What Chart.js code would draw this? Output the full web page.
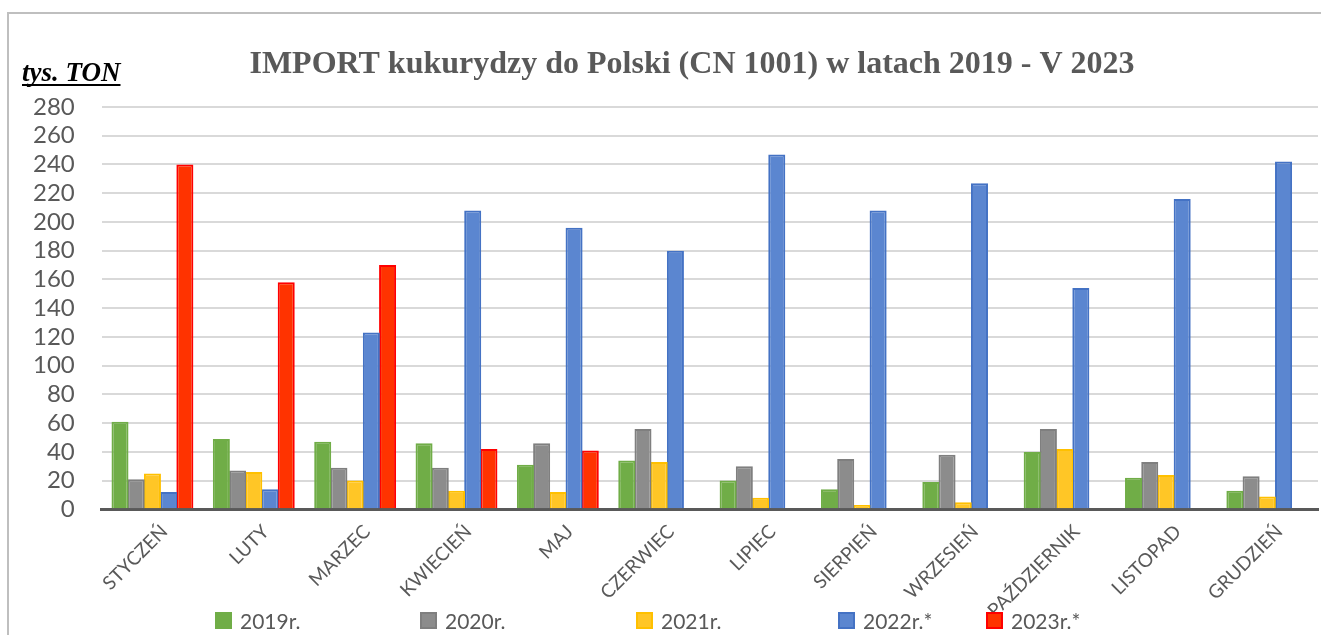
<!DOCTYPE html>
<html lang="pl">
<head>
<meta charset="utf-8">
<title>IMPORT kukurydzy do Polski</title>
<script src="https://cdn.jsdelivr.net/npm/chart.js@4.4.1/dist/chart.umd.min.js"></script>
<style>
  html, body { margin: 0; padding: 0; background: #fff; }
  #wrap { position: relative; width: 1321px; height: 635px; overflow: hidden; }
  #legenda { position: absolute; left: 0; top: 606px; height: 28px; display: flex; align-items: center;
             font-family: Lato, 'Open Sans', sans-serif; font-size: 21px; color: #595959; }
  #legenda .pozycja { position: absolute; display: flex; align-items: center; white-space: nowrap; }
  #legenda .kwadrat { width: 13px; height: 13px; border: 2px solid; margin-right: 8px; }
</style>
</head>
<body>
<div id="wrap">
  <canvas id="wykres" width="1321" height="635"></canvas>
  <div id="legenda"></div>
</div>
<script>
// Miesiące
const miesiace = ['STYCZEŃ', 'LUTY', 'MARZEC', 'KWIECIEŃ', 'MAJ', 'CZERWIEC',
  'LIPIEC', 'SIERPIEŃ', 'WRZESIEŃ', 'PAŹDZIERNIK', 'LISTOPAD', 'GRUDZIEŃ'];

// Import w tys. ton
const import2019 = [61, 49, 47, 46, 31, 34, 20, 14, 19, 40, 22, 13];
const import2020 = [21, 27, 29, 29, 46, 56, 30, 35, 38, 56, 33, 23];
const import2021 = [25, 26, 20, 13, 12, 33, 8, 3, 5, 42, 24, 9];
const import2022 = [12, 14, 123, 208, 196, 180, 247, 208, 227, 154, 216, 242];
const import2023 = [240, 158, 170, 42, 41, null, null, null, null, null, null, null];

const serie = [
  { label: '2019r.', data: import2019, fill: '#70ad47', border: '#70ad47' },
  { label: '2020r.', data: import2020, fill: '#8c8c8c', border: '#7f7f7f' },
  { label: '2021r.', data: import2021, fill: '#ffc626', border: '#ffc000' },
  { label: '2022r.*', data: import2022, fill: '#5b86d0', border: '#4472c4' },
  { label: '2023r.*', data: import2023, fill: '#ff3300', border: '#ff0000' }
];

const tytul = 'IMPORT kukurydzy do Polski (CN 1001) w latach 2019 - V 2023';
const jednostka = 'tys. TON';

// Ramka, tytuł i opis osi Y
const ozdobyPlugin = {
  id: 'ozdoby',
  afterDraw(chart) {
    const ctx = chart.ctx;
    ctx.save();
    ctx.strokeStyle = '#bfbfbf';
    ctx.lineWidth = 2;
    ctx.beginPath();
    ctx.moveTo(8, 635);
    ctx.lineTo(8, 13);
    ctx.lineTo(1321, 13);
    ctx.stroke();

    ctx.fillStyle = '#595959';
    ctx.font = 'bold 32px "Liberation Serif", "Times New Roman", serif';
    ctx.textAlign = 'center';
    ctx.textBaseline = 'alphabetic';
    ctx.fillText(tytul, 692, 73);

    ctx.fillStyle = '#000';
    ctx.font = 'bold italic 27px "Liberation Serif", "Times New Roman", serif';
    ctx.textAlign = 'left';
    ctx.fillText(jednostka, 22, 81);
    const w = ctx.measureText(jednostka).width;
    ctx.fillRect(22, 84, w, 2);
    ctx.restore();
  }
};

new Chart(document.getElementById('wykres').getContext('2d'), {
  type: 'bar',
  data: {
    labels: miesiace,
    datasets: serie.map(s => ({
      label: s.label,
      data: s.data,
      backgroundColor: s.fill,
      borderColor: s.border,
      borderWidth: 2,
      categoryPercentage: 0.8,
      barPercentage: 1.05
    }))
  },
  options: {
    responsive: false,
    animation: false,
    layout: { padding: { left: 6, top: 107, right: 3, bottom: 2 } },
    plugins: {
      legend: { display: false },
      title: { display: false },
      tooltip: { enabled: false }
    },
    scales: {
      y: {
        min: 0,
        max: 280,
        ticks: {
          stepSize: 20,
          autoSkip: false,
          padding: 27,
          color: '#595959',
          font: { family: 'Lato', size: 24 }
        },
        grid: { color: '#d9d9d9', lineWidth: 2, drawTicks: false },
        border: { display: false }
      },
      x: {
        ticks: {
          minRotation: 45,
          maxRotation: 45,
          color: '#595959',
          padding: 11,
          labelOffset: 12,
          font: { family: 'Lato', size: 19 }
        },
        grid: { display: false, drawTicks: false },
        border: { display: true, color: '#595959', width: 3 }
      }
    }
  },
  plugins: [ozdobyPlugin]
});

// Legenda
const pozycjeLegendy = [215, 420, 636, 838, 986];
const legenda = document.getElementById('legenda');
serie.forEach((s, i) => {
  const el = document.createElement('div');
  el.className = 'pozycja';
  el.style.left = pozycjeLegendy[i] + 'px';
  el.innerHTML = '<span class="kwadrat" style="background:' + s.fill + ';border-color:' + s.border + '"></span>' + s.label;
  legenda.appendChild(el);
});
</script>
</body>
</html>
